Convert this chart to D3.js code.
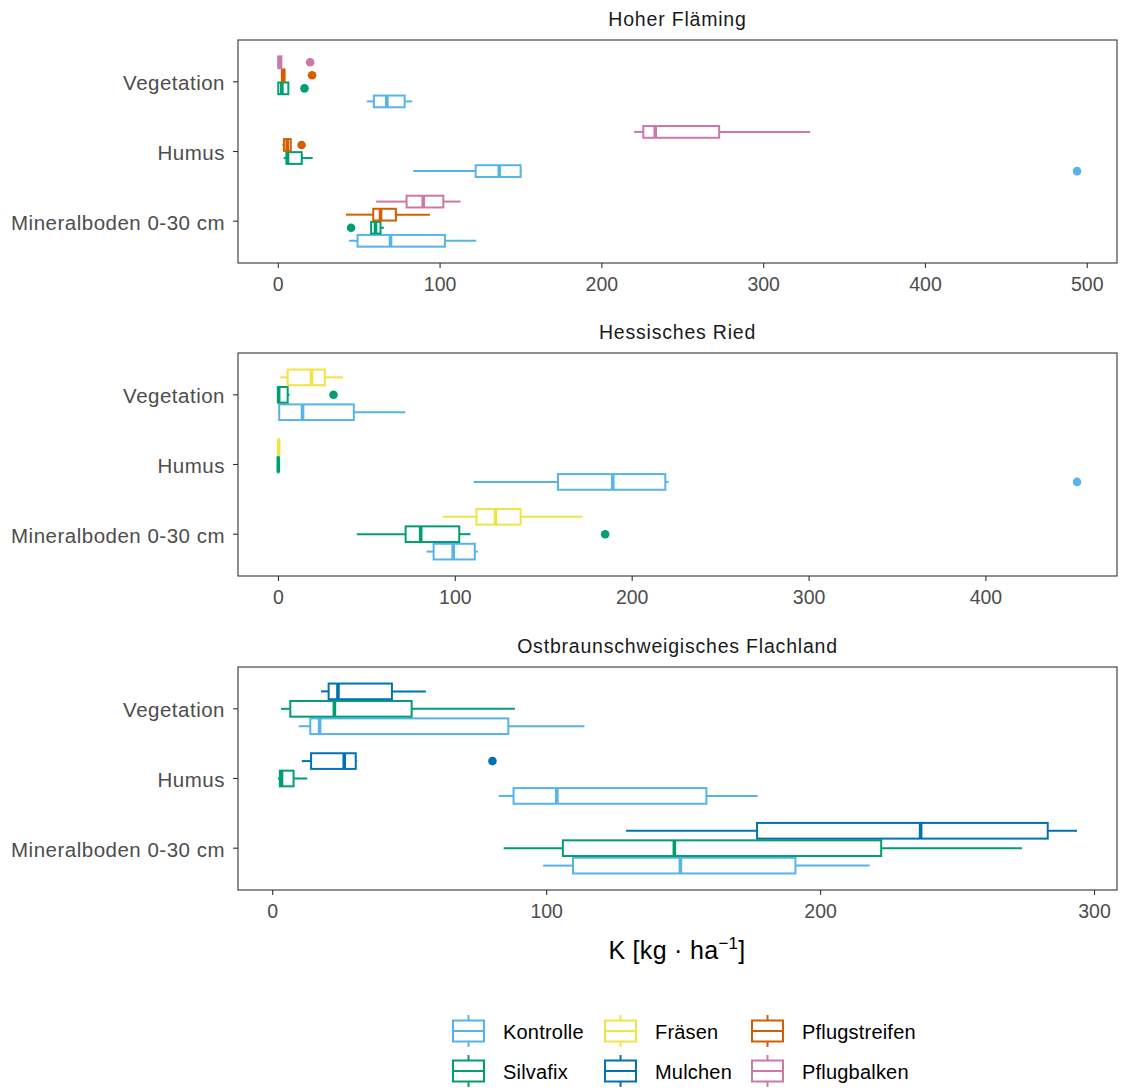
<!DOCTYPE html>
<html>
<head>
<meta charset="utf-8">
<title>K boxplots</title>
<script src="https://cdn.jsdelivr.net/npm/d3@7"></script>
<style>
    body{ margin: 0; background: #fff; }
    svg{ font-family: "Liberation Sans", Arial, sans-serif; }
</style>
</head>
<body>
<svg id="chart" width="1121" height="1090"></svg>
<script>
// ---- data ----
const regions = ["Hoher Fläming", "Hessisches Ried", "Ostbraunschweigisches Flachland"];
const compartments = ["Vegetation", "Humus", "Mineralboden 0-30 cm"];
const treatments = ["Kontrolle", "Silvafix", "Fräsen", "Mulchen", "Pflugstreifen", "Pflugbalken"];
const treatmentColors = ["#56B4E9", "#009E73", "#F0E442", "#0072B2", "#D55E00", "#CC79A7"];
const xTickValues = [[0, 100, 200, 300, 400, 500], [0, 100, 200, 300, 400], [0, 100, 200, 300]];

// one entry per box
const boxRegion = [0,0,0,0, 0,0,0,0, 0,0,0,0, 1,1,1, 1,1,1, 1,1,1, 2,2,2, 2,2,2, 2,2,2];
const boxCompartment = [0,0,0,0, 1,1,1,1, 2,2,2,2, 0,0,0, 1,1,1, 2,2,2, 0,0,0, 1,1,1, 2,2,2];
const boxTreatment = ["Kontrolle","Silvafix","Pflugstreifen","Pflugbalken",
                      "Kontrolle","Silvafix","Pflugstreifen","Pflugbalken",
                      "Kontrolle","Silvafix","Pflugstreifen","Pflugbalken",
                      "Kontrolle","Silvafix","Fräsen", "Kontrolle","Silvafix","Fräsen", "Kontrolle","Silvafix","Fräsen",
                      "Kontrolle","Silvafix","Mulchen", "Kontrolle","Silvafix","Mulchen", "Kontrolle","Silvafix","Mulchen"];
const boxLow    = [55.0, 0.1, 2.3, 0.1,   83.7, 3.7, 2.9, 220.2,  44.1, 57.5, 42.1, 60.8,
                   0.0, 0.0, 1.3,   110.7, 0.1, 0.2,   84.0, 44.6, 93.2,
                   9.7, 3.2, 17.8,  82.7, 2.1, 10.8,   98.9, 84.5, 129.2];
const boxQ1     = [59.4, 0.3, 2.5, 0.3,   122.3, 5.4, 3.8, 225.9, 49.3, 57.7, 59.0, 79.6,
                   0.7, 0.0, 5.5,   158.3, 0.15, 0.3,  88.0, 72.2, 112.2,
                   13.9, 6.6, 20.6, 88.1, 2.8, 14.2,   109.8, 106.1, 177.0];
const boxMedian = [67.4, 2.5, 3.4, 1.0,   136.9, 6.0, 5.8, 233.3, 69.7, 60.4, 63.5, 89.9,
                   13.9, 0.4, 19.0, 189.3, 0.2, 0.4,   99.1, 80.7, 123.0,
                   17.3, 22.7, 24.0, 103.9, 3.4, 26.3, 149.0, 146.8, 236.7];
const boxQ3     = [78.4, 6.5, 4.2, 2.2,   150.1, 14.8, 8.0, 272.8, 103.3, 63.5, 73.0, 102.3,
                   42.9, 5.5, 26.5, 219.0, 0.25, 0.5,  111.3, 102.5, 137.2,
                   86.2, 50.9, 43.7, 158.5, 7.8, 30.5, 191.0, 222.3, 283.1];
const boxHigh   = [83.1, 6.8, 4.5, 2.6,   150.7, 21.6, 8.2, 329.0, 122.6, 65.6, 94.0, 113.0,
                   72.0, 6.6, 36.8, 220.9, 0.3, 0.6,   113.0, 108.9, 172.2,
                   114.0, 88.6, 56.1, 177.2, 12.8, 31.0, 218.1, 273.7, 293.8];

// outlying points
const outRegion      = [0, 0, 0, 0, 0, 0, 1, 1, 1, 2];
const outCompartment = [0, 0, 0, 1, 1, 2, 0, 1, 2, 1];
const outTreatment   = ["Silvafix","Pflugstreifen","Pflugbalken","Kontrolle","Pflugstreifen","Silvafix",
                        "Silvafix","Kontrolle","Silvafix","Mulchen"];
const outValue       = [16.5, 21.2, 20.0, 494.0, 14.7, 45.3, 31.4, 451.8, 185.0, 80.4];

// ---- layout ----
const svg = d3.select("#chart");
const plotLeft = 238, plotRight = 1117, panelHeight = 223;
const panelTops = [40, 353, 667];
const color = d3.scaleOrdinal().domain(treatments).range(treatmentColors);
const axisGrey = "#333333", labelGrey = "#4D4D4D";

const boxes = boxRegion.map((r, i) => ({
    region: r, comp: boxCompartment[i], treat: boxTreatment[i],
    lo: boxLow[i], q1: boxQ1[i], med: boxMedian[i], q3: boxQ3[i], hi: boxHigh[i]
}));
const outliers = outRegion.map((r, i) => ({
    region: r, comp: outCompartment[i], treat: outTreatment[i], value: outValue[i]
}));

regions.forEach(function (name, ri) {
    const top = panelTops[ri], bottom = top + panelHeight;
    const pBoxes = boxes.filter(d => d.region === ri);
    const pOut = outliers.filter(d => d.region === ri);

    // free x scale, 5% expansion like ggplot
    const lo = d3.min(pBoxes.map(d => d.lo).concat(pOut.map(d => d.value)));
    const hi = d3.max(pBoxes.map(d => d.hi).concat(pOut.map(d => d.value)));
    const pad = (hi - lo) * 0.05;
    const x = d3.scaleLinear().domain([lo - pad, hi + pad]).range([plotLeft, plotRight]);

    const y = d3.scaleBand().domain(compartments).range([top, bottom])
        .paddingInner(0).paddingOuter(0.1);

    const g = svg.append("g");

    // strip title
    g.append("text")
        .attr("x", (plotLeft + plotRight) / 2).attr("y", top - 14)
        .attr("text-anchor", "middle").attr("font-size", "19.5px").attr("letter-spacing", "0.8px")
        .attr("fill", "#1A1A1A")
        .text(name);

    // boxes, dodged within each compartment
    compartments.forEach(function (comp, ci) {
        const here = pBoxes.filter(d => d.comp === ci);
        const groups = treatments.filter(t => here.some(d => d.treat === t));
        const c = y(comp) + y.bandwidth() / 2;
        const half = y.step() * 0.375;
        const inner = d3.scaleBand().domain(groups).range([c + half, c - half])
            .paddingInner(0.1).paddingOuter(0.05);

        here.forEach(function (d) {
            const y0 = inner(d.treat), h = inner.bandwidth(), ym = y0 + h / 2;
            const col = color(d.treat);
            g.append("line")
                .attr("x1", x(d.lo)).attr("x2", x(d.q1)).attr("y1", ym).attr("y2", ym)
                .attr("stroke", col).attr("stroke-width", 2);
            g.append("line")
                .attr("x1", x(d.q3)).attr("x2", x(d.hi)).attr("y1", ym).attr("y2", ym)
                .attr("stroke", col).attr("stroke-width", 2);
            g.append("rect")
                .attr("x", x(d.q1)).attr("y", y0)
                .attr("width", Math.max(0, x(d.q3) - x(d.q1))).attr("height", h)
                .attr("fill", "#fff").attr("stroke", col).attr("stroke-width", 2);
            g.append("line")
                .attr("x1", x(d.med)).attr("x2", x(d.med)).attr("y1", y0).attr("y2", y0 + h)
                .attr("stroke", col).attr("stroke-width", 3.6);
        });

        pOut.filter(d => d.comp === ci).forEach(function (d) {
            g.append("circle")
                .attr("cx", x(d.value)).attr("cy", inner(d.treat) + inner.bandwidth() / 2)
                .attr("r", 4.3).attr("fill", color(d.treat));
        });
    });

    // panel border
    g.append("rect")
        .attr("x", plotLeft).attr("y", top)
        .attr("width", plotRight - plotLeft).attr("height", panelHeight)
        .attr("fill", "none").attr("stroke", axisGrey).attr("stroke-width", 1.1);

    // x axis
    const xAxis = g.append("g").attr("transform", "translate(0," + bottom + ")")
        .call(d3.axisBottom(x).tickValues(xTickValues[ri]).tickSize(5).tickPadding(9).tickFormat(d3.format("d")));
    xAxis.select(".domain").remove();
    xAxis.selectAll(".tick line").attr("stroke", axisGrey).attr("stroke-width", 1.1);
    xAxis.selectAll(".tick text").attr("font-size", "19.5px").attr("fill", labelGrey)
        .attr("font-family", "Liberation Sans, Arial, sans-serif");

    // y axis
    const yAxis = g.append("g").attr("transform", "translate(" + plotLeft + ",0)")
        .call(d3.axisLeft(y).tickSize(5).tickPadding(8));
    yAxis.select(".domain").remove();
    yAxis.selectAll(".tick line").attr("stroke", axisGrey).attr("stroke-width", 1.1);
    yAxis.selectAll(".tick text").attr("font-size", "20.5px").attr("letter-spacing", "0.5px")
        .attr("fill", labelGrey).attr("dy", "0.42em")
        .attr("font-family", "Liberation Sans, Arial, sans-serif");
});

// axis title
const title = svg.append("text")
    .attr("x", 677).attr("y", 959).attr("text-anchor", "middle")
    .attr("font-size", "25px").attr("letter-spacing", "0.3px").attr("fill", "#000");
title.append("tspan").text("K [kg \u00B7 ha");
title.append("tspan").attr("dy", -10).attr("font-size", "17px").text("\u22121");
title.append("tspan").attr("dy", 10).text("]");

// legend
const legendCols = [453, 605, 752];
const legendRows = [1031, 1071];
const legendOrder = [["Kontrolle", "Fräsen", "Pflugstreifen"], ["Silvafix", "Mulchen", "Pflugbalken"]];
legendOrder.forEach(function (row, r) {
    row.forEach(function (t, c) {
        const lx = legendCols[c], ly = legendRows[r], col = color(t);
        const key = svg.append("g");
        key.append("line").attr("x1", lx + 15.5).attr("x2", lx + 15.5)
            .attr("y1", ly - 16).attr("y2", ly + 16).attr("stroke", col).attr("stroke-width", 2);
        key.append("rect").attr("x", lx).attr("y", ly - 10.5).attr("width", 31).attr("height", 21)
            .attr("fill", "#fff").attr("stroke", col).attr("stroke-width", 2);
        key.append("line").attr("x1", lx).attr("x2", lx + 31).attr("y1", ly).attr("y2", ly)
            .attr("stroke", col).attr("stroke-width", 2);
        svg.append("text").attr("x", lx + 50).attr("y", ly + 8)
            .attr("font-size", "20px").attr("letter-spacing", "0.2px").attr("fill", "#000").text(t);
    });
});
</script>
</body>
</html>
